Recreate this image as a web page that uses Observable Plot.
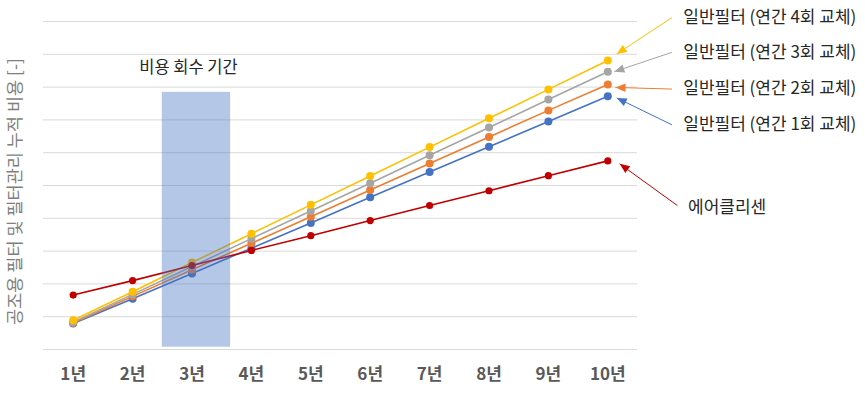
<!DOCTYPE html>
<html><head><meta charset="utf-8">
<script src="https://cdn.jsdelivr.net/npm/d3@7"></script>
<script src="https://cdn.jsdelivr.net/npm/@observablehq/plot@0.6"></script>
<style>
body{margin:0;background:#fff;}
svg{font-family:"Noto Sans CJK KR","Noto Sans",sans-serif;background:#fff;}
</style>
</head><body><div id="chart"></div>
<script>
// ---- data ----
const years = [1,2,3,4,5,6,7,8,9,10];
const yearLabels = ["1년","2년","3년","4년","5년","6년","7년","8년","9년","10년"];
const seriesNames = ["일반필터 (연간 1회 교체)","일반필터 (연간 2회 교체)","일반필터 (연간 3회 교체)","일반필터 (연간 4회 교체)","에어클리센"];
const seriesColors = ["#4472C4","#ED7D31","#A5A5A5","#FFC000","#C00000"];
const filter1 = [0.79,1.55,2.32,3.09,3.86,4.64,5.41,6.18,6.95,7.72];
const filter2 = [0.81,1.62,2.43,3.24,4.05,4.86,5.67,6.48,7.29,8.08];
const filter3 = [0.83,1.68,2.53,3.38,4.22,5.07,5.92,6.77,7.62,8.47];
const filter4 = [0.89,1.76,2.65,3.53,4.41,5.29,6.17,7.05,7.93,8.81];
const airclean = [1.66,2.10,2.56,3.02,3.47,3.93,4.39,4.84,5.30,5.75];
const yTicks = [0,1,2,3,4,5,6,7,8,9,10];
const yLabel = "공조용 필터 및 필터관리 누적 비용 [-]";

// payback period box and its label
const periodLabel = "비용 회수 기간";
const periodX = [2.5, 3.65];
const periodY = [0.07, 7.84];
const periodLabelPos = [2.94, 8.59];

// annotations (label anchor, arrow start, arrow tip)
const labelX = [11.27,11.27,11.27,11.27,11.35];
const labelY = [6.85,7.95,9.05,10.11,4.33];
const arrowFromX = [11.08,11.08,11.08,11.08,11.17];
const arrowFromY = [6.85,7.94,9.06,10.12,4.39];
const arrowToX = [10.15,10.13,10.11,10.15,10.20];
const arrowToY = [7.67,7.99,8.47,9.01,5.66];

// ---- tables ----
const seriesValues = [filter1, filter2, filter3, filter4, airclean];
const rows = seriesValues.flatMap((vals, s) => vals.map((v, i) => ({year: years[i], value: v, series: seriesNames[s]})));
const annotations = seriesNames.map((name, i) => ({
  series: name, lx: labelX[i], ly: labelY[i],
  x1: arrowFromX[i], y1: arrowFromY[i], x2: arrowToX[i], y2: arrowToY[i]
}));
const band = [{x1: periodX[0], x2: periodX[1], y1: periodY[0], y2: periodY[1]}];

const seriesMarks = seriesNames.flatMap((name, s) => {
  const d = rows.filter(r => r.series === name);
  return [
    Plot.line(d, {x: "year", y: "value", stroke: "series", strokeWidth: 1.6}),
    Plot.dot(d, {x: "year", y: "value", fill: "series", r: s === 4 ? 3.6 : 4, stroke: "none"})
  ];
});

const chart = Plot.plot({
  width: 865, height: 397,
  marginLeft: 43, marginRight: 228, marginTop: 21, marginBottom: 48,
  x: {type: "linear", domain: [0.5, 10.5], axis: null},
  y: {domain: [0, 10], axis: null},
  color: {domain: seriesNames, range: seriesColors},
  style: {fontFamily: '"Noto Sans CJK KR", sans-serif', background: "#fff", overflow: "visible"},
  marks: [
    Plot.gridY(yTicks, {stroke: "#D9D9D9", strokeOpacity: 1, strokeWidth: 1}),
    Plot.axisX({ticks: years, tickSize: 0, tickPadding: 18, tickFormat: d => yearLabels[years.indexOf(d)],
      fontSize: 17, fontWeight: "bold", fill: "#595959", label: null}),
    Plot.text([yLabel], {text: d => d, frameAnchor: "left", textAnchor: "middle", rotate: -90, dx: -28, dy: 6,
      fontSize: 17.5, fill: "#7F7F7F"}),
    ...seriesMarks,
    Plot.rect(band, {x1: "x1", x2: "x2", y1: "y1", y2: "y2", fill: "#4472C4", fillOpacity: 0.4}),
    Plot.text([periodLabel], {x: periodLabelPos[0], y: periodLabelPos[1], text: d => d, fontSize: 16.5, fill: "#262626"}),
    Plot.link(annotations, {x1: "x1", y1: "y1", x2: "x2", y2: "y2", stroke: "series", strokeWidth: 1}),
    Plot.text(annotations, {x: "lx", y: "ly", text: "series", textAnchor: "start", fontSize: 17, fill: "#262626"})
  ]
});

// filled arrowheads on the annotation links
const svg = chart.tagName.toLowerCase() === "svg" ? chart : chart.querySelector("svg");
const ns = "http://www.w3.org/2000/svg";
const defs = document.createElementNS(ns, "defs");
svg.insertBefore(defs, svg.firstChild);
svg.querySelectorAll('g[aria-label="link"] path').forEach((p, i) => {
  const color = p.getAttribute("stroke") || p.parentNode.getAttribute("stroke");
  const m = document.createElementNS(ns, "marker");
  m.setAttribute("id", "ah" + i);
  m.setAttribute("markerUnits", "userSpaceOnUse");
  m.setAttribute("markerWidth", "12");
  m.setAttribute("markerHeight", "12");
  m.setAttribute("viewBox", "-11 -6 12 12");
  m.setAttribute("refX", "0");
  m.setAttribute("refY", "0");
  m.setAttribute("orient", "auto");
  const tri = document.createElementNS(ns, "path");
  tri.setAttribute("d", "M-10,-4.2L0,0L-10,4.2Z");
  tri.setAttribute("fill", color);
  m.appendChild(tri);
  defs.appendChild(m);
  p.setAttribute("marker-end", `url(#ah${i})`);
});

document.getElementById("chart").appendChild(chart);
</script>
</body></html>
